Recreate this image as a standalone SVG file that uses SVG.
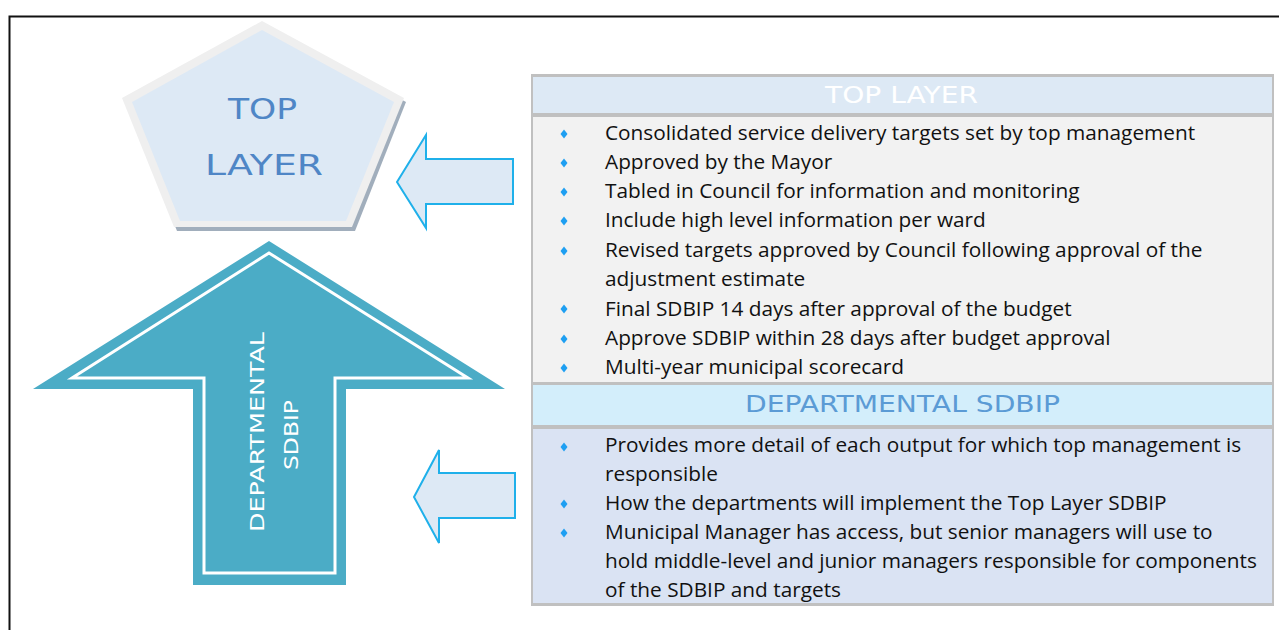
<svg xmlns="http://www.w3.org/2000/svg" width="1279" height="630" viewBox="0 0 1279 630">
<style>
.hand{font-family:"DejaVu Sans","Open Sans",sans-serif;font-weight:normal;}
.body{font-family:"Open Sans","Liberation Sans",sans-serif;font-size:20.8px;fill:#111;}
.bul{fill:#1e9ff2;}
.larrow{fill:#dde9f5;stroke:#1fb0ea;stroke-width:2;}
</style>
<defs>
<path id="dia" d="M0,-4.5 L3.5,0 L0,4.5 L-3.5,0 Z"/>
</defs>
<rect width="1279" height="630" fill="#fff"/>
<path d="M9.5,630 L9.5,16.5 L1279,16.5" fill="none" stroke="#111" stroke-width="2"/>

<g id="top-layer-node">
<polygon points="265,25 406,102 355,231 177,231 125,102" fill="#8a9aab" opacity="0.8"/>
<polygon points="262,21 404,98 352,227 174,227 122,98" fill="#efefef"/>
<polygon points="262,30 394,102 346,221 180,221 132,102" fill="#dde9f5"/>
<text class="hand" x="228" y="119" font-size="29" fill="#4f86c6" textLength="69" lengthAdjust="spacingAndGlyphs">TOP</text>
<text class="hand" x="205" y="175" font-size="29" fill="#4f86c6" textLength="118" lengthAdjust="spacingAndGlyphs">LAYER</text>
</g>

<g id="departmental-node">
<polygon points="269,241 505,389 346,389 346,585 193,585 193,389 33,389" fill="#4bacc6"/>
<polygon points="269,253 468,378 335,378 335,573 204,573 204,378 72,378" fill="none" stroke="#fff" stroke-width="3"/>
<text class="hand" transform="translate(264,532) rotate(-90)" font-size="20" fill="#fff" textLength="200" lengthAdjust="spacingAndGlyphs">DEPARTMENTAL</text>
<text class="hand" transform="translate(298,470) rotate(-90)" font-size="20" fill="#fff" textLength="70" lengthAdjust="spacingAndGlyphs">SDBIP</text>
</g>

<g id="connectors">
<polygon class="larrow" points="397,182 426,135 426,159 513,159 513,204 426,204 426,228"/>
<polygon class="larrow" points="414,497 439,450 439,473 515,473 515,518 439,518 439,543"/>
</g>

<g id="info-panel">
<rect x="531" y="74" width="743" height="532" fill="#c0c0c0"/>
<rect x="533" y="77" width="739" height="36" fill="#dde9f5"/>
<rect x="533" y="117" width="739" height="265" fill="#f2f2f2"/>
<rect x="533" y="385" width="739" height="40" fill="#d3eefb"/>
<rect x="533" y="429" width="739" height="174" fill="#dae3f3"/>
<text class="hand" x="825" y="103" font-size="23" fill="#fff" textLength="153" lengthAdjust="spacingAndGlyphs">TOP LAYER</text>
<text class="hand" x="745" y="412" font-size="23" fill="#5b9bd5" textLength="315" lengthAdjust="spacingAndGlyphs">DEPARTMENTAL SDBIP</text>

<use href="#dia" class="bul" x="564" y="134"/>
<use href="#dia" class="bul" x="564" y="163"/>
<use href="#dia" class="bul" x="564" y="192"/>
<use href="#dia" class="bul" x="564" y="221"/>
<use href="#dia" class="bul" x="564" y="251"/>
<use href="#dia" class="bul" x="564" y="309"/>
<use href="#dia" class="bul" x="564" y="339"/>
<use href="#dia" class="bul" x="564" y="368"/>
<text class="body" x="605" y="140">Consolidated service delivery targets set by top management</text>
<text class="body" x="605" y="169">Approved by the Mayor</text>
<text class="body" x="605" y="198">Tabled in Council for information and monitoring</text>
<text class="body" x="605" y="227">Include high level information per ward</text>
<text class="body" x="605" y="257">Revised targets approved by Council following approval of the</text>
<text class="body" x="605" y="286">adjustment estimate</text>
<text class="body" x="605" y="316">Final SDBIP 14 days after approval of the budget</text>
<text class="body" x="605" y="345">Approve SDBIP within 28 days after budget approval</text>
<text class="body" x="605" y="374">Multi-year municipal scorecard</text>

<use href="#dia" class="bul" x="564" y="447"/>
<use href="#dia" class="bul" x="564" y="504"/>
<use href="#dia" class="bul" x="564" y="533"/>
<text class="body" x="605" y="452">Provides more detail of each output for which top management is</text>
<text class="body" x="605" y="481">responsible</text>
<text class="body" x="605" y="510">How the departments will implement the Top Layer SDBIP</text>
<text class="body" x="605" y="539">Municipal Manager has access, but senior managers will use to</text>
<text class="body" x="605" y="568">hold middle-level and junior managers responsible for components</text>
<text class="body" x="605" y="597">of the SDBIP and targets</text>
</g>
</svg>
